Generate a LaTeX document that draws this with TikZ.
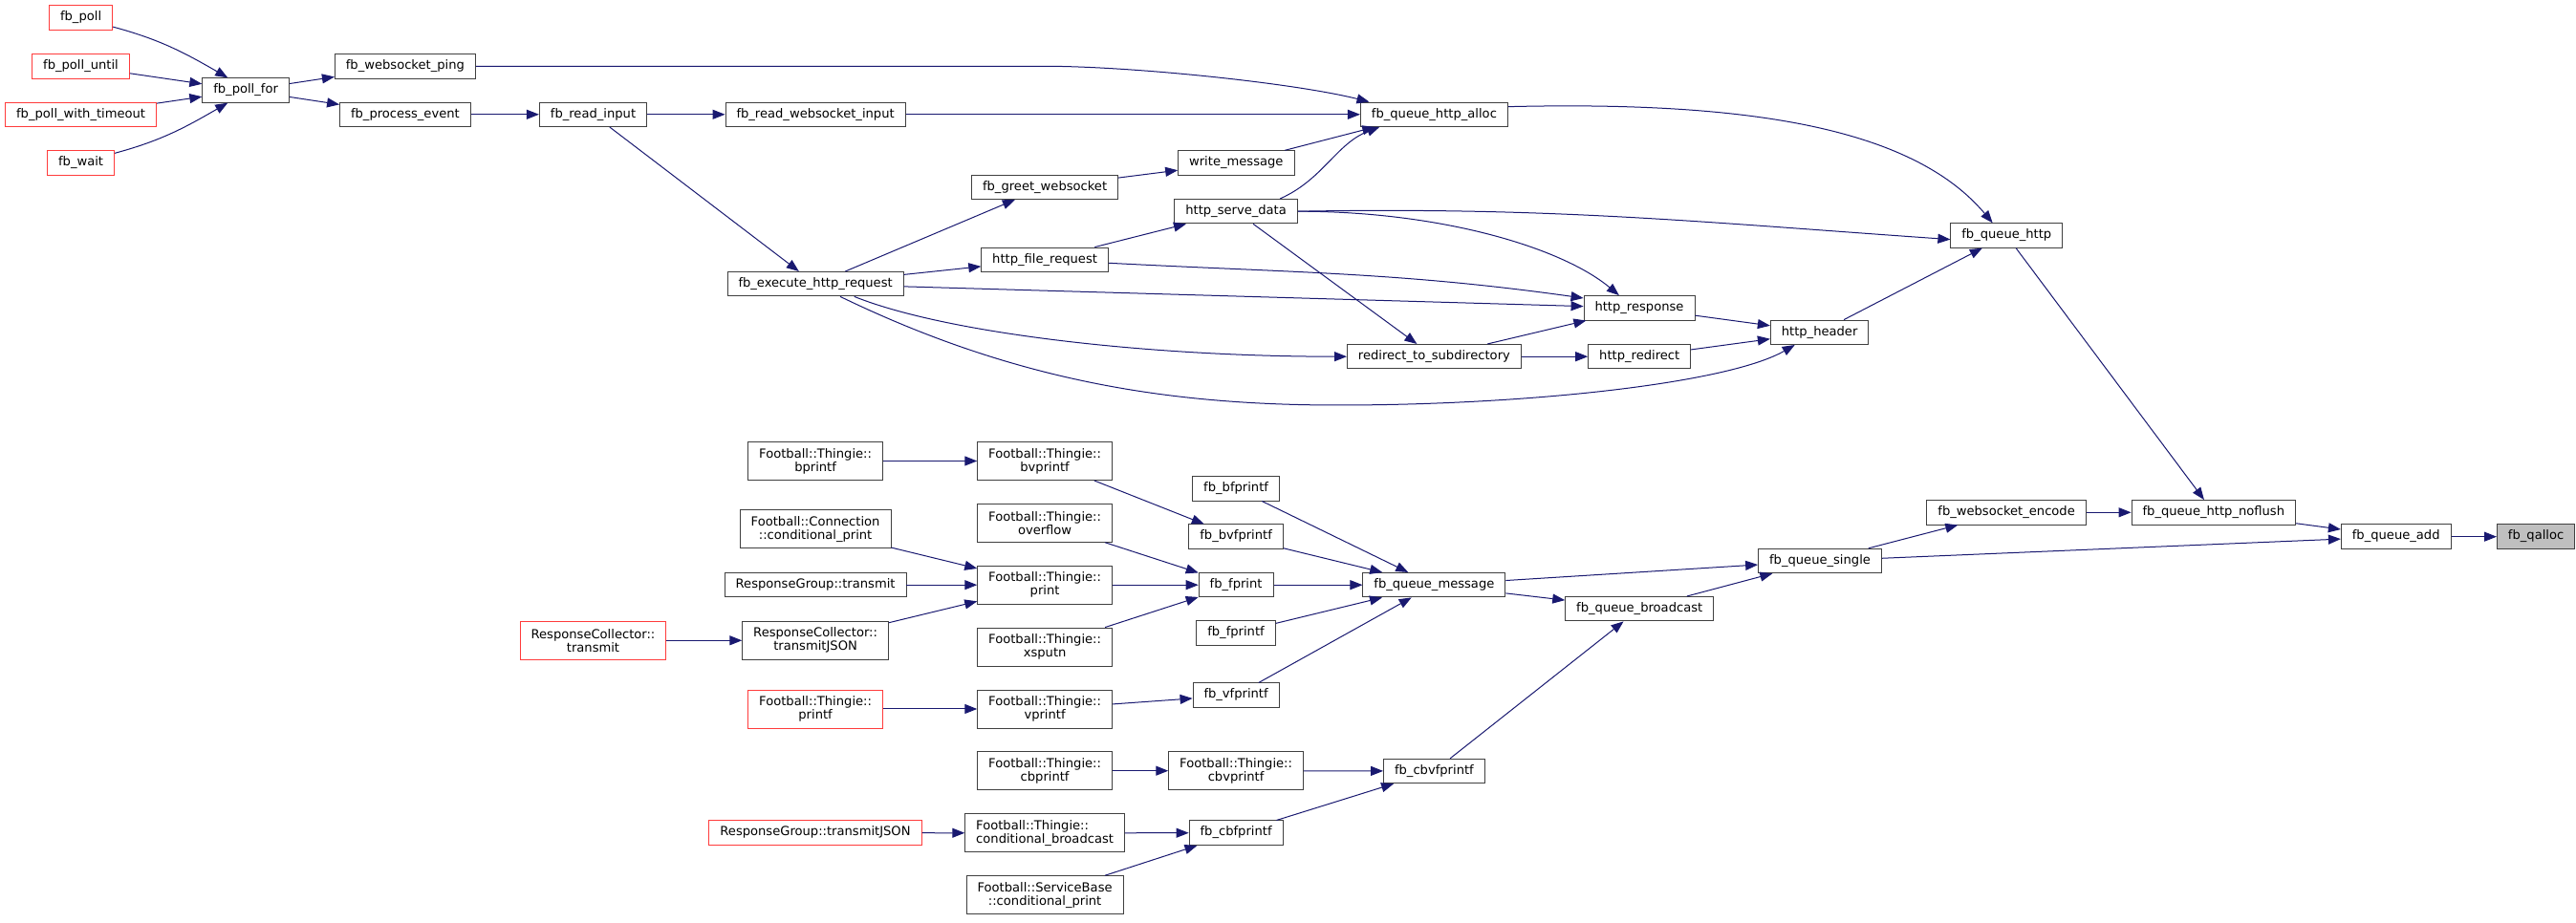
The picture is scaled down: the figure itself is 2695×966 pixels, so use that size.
\documentclass[tikz,border=0pt]{standalone}
\usepackage{fontspec}
\setmainfont{DejaVu Sans}
\usetikzlibrary{arrows.meta}
\definecolor{midnight}{RGB}{25,25,112}
\definecolor{boxline}{RGB}{64,64,64}
\definecolor{truncred}{RGB}{255,60,60}
\definecolor{rootfill}{RGB}{191,191,191}
\begin{document}
\begin{tikzpicture}[x = 1pt, y = 1pt,
		box/.style = {draw = boxline, line width = .9pt, fill = white, inner xsep = 11.5pt, inner ysep = 2pt, font = \fontsize{13.1}{14}\selectfont},
		fn/.style = {box, minimum height = 25.5pt, text height = 9.5pt, text depth = 3pt},
		two/.style = {box, align = center, minimum height = 40pt},
		trunc/.style = {draw = truncred},
		call/.style = {draw = midnight, line width = 1pt, -{Triangle[length = 13pt, width = 10pt]}}]
				\useasboundingbox (0,0) rectangle (2695,966);
				% upper part: polling and http
				\node[fn, trunc] (poll) at (84.6,947.5) {fb\_poll};
				\node[fn, trunc] (polluntil) at (84.5,896.7) {fb\_poll\_until};
				\node[fn, trunc] (pollwt) at (84.6,846.2) {fb\_poll\_with\_timeout};
				\node[fn, trunc] (wait) at (84.6,795.5) {fb\_wait};
				\node[fn] (pollfor) at (257.1,871.5) {fb\_poll\_for};
				\node[fn] (wsping) at (423.9,896.7) {fb\_websocket\_ping};
				\node[fn] (procev) at (423.9,846.2) {fb\_process\_event};
				\node[fn] (readin) at (620.5,846.2) {fb\_read\_input};
				\node[fn] (readws) at (853.1,846.2) {fb\_read\_websocket\_input};
				\node[fn] (exec) at (853.1,668.8) {fb\_execute\_http\_request};
				\node[fn] (greet) at (1093.1,770.2) {fb\_greet\_websocket};
				\node[fn] (filereq) at (1093.1,694.2) {http\_file\_request};
				\node[fn] (writemsg) at (1293.3,795.5) {write\_message};
				\node[fn] (serve) at (1293.1,744.8) {http\_serve\_data};
				\node[fn] (qhalloc) at (1500.4,846.2) {fb\_queue\_http\_alloc};
				\node[fn] (redirsub) at (1500.4,592.8) {redirect\_to\_subdirectory};
				\node[fn] (response) at (1715,643.7) {http\_response};
				\node[fn] (redirect) at (1715.2,592.8) {http\_redirect};
				\node[fn] (header) at (1903.6,618.2) {http\_header};
				\node[fn] (qhttp) at (2099.3,719.5) {fb\_queue\_http};
				% lower part: printing and queueing
				\node[two] (bprintf) at (853.1,483.5) {Football::Thingie::\\bprintf};
				\node[two] (connprint) at (853.1,412.2) {Football::Connection\\::conditional\_print};
				\node[fn] (rgtransmit) at (853.1,353.8) {ResponseGroup::transmit};
				\node[two] (rctjson) at (853.1,295.7) {ResponseCollector::\\transmitJSON};
				\node[two, trunc] (rctransmit) at (620.5,295.7) {ResponseCollector::\\transmit};
				\node[two, trunc] (printf) at (853.1,224) {Football::Thingie::\\printf};
				\node[fn, trunc] (rgtjson) at (853,94.3) {ResponseGroup::transmitJSON};
				\node[two] (bvprintf) at (1093.1,483.5) {Football::Thingie::\\bvprintf};
				\node[two] (overflow) at (1093.1,418.7) {Football::Thingie::\\overflow};
				\node[two] (print) at (1093.1,353.8) {Football::Thingie::\\print};
				\node[two] (xsputn) at (1093.1,289) {Football::Thingie::\\xsputn};
				\node[two] (vprintf) at (1093.1,224) {Football::Thingie::\\vprintf};
				\node[two] (cbprintf) at (1093.1,159.3) {Football::Thingie::\\cbprintf};
				\node[two, align = left] (condbc) at (1093.1,94.2) {Football::Thingie::\\conditional\_broadcast};
				\node[two] (sbprint) at (1093.1,29.3) {Football::ServiceBase\\::conditional\_print};
				\node[fn] (bfprintf) at (1293.1,454.7) {fb\_bfprintf};
				\node[fn] (bvfprintf) at (1293.1,404.3) {fb\_bvfprintf};
				\node[fn] (fprint) at (1293.1,353.8) {fb\_fprint};
				\node[fn] (fprintf) at (1293,303.5) {fb\_fprintf};
				\node[fn] (vfprintf) at (1293.1,238.3) {fb\_vfprintf};
				\node[two] (cbvprintf) at (1293.1,159.3) {Football::Thingie::\\cbvprintf};
				\node[fn] (cbfprintf) at (1293.1,94.3) {fb\_cbfprintf};
				\node[fn] (qmsg) at (1500.4,353.8) {fb\_queue\_message};
				\node[fn] (cbvfprintf) at (1500.4,159) {fb\_cbvfprintf};
				\node[fn] (qbc) at (1715.2,328.8) {fb\_queue\_broadcast};
				\node[fn] (qsingle) at (1904,379) {fb\_queue\_single};
				\node[fn] (wsenc) at (2099.1,429.7) {fb\_websocket\_encode};
				\node[fn] (qnoflush) at (2315.8,429.7) {fb\_queue\_http\_noflush};
				\node[fn] (qadd) at (2506.7,404.3) {fb\_queue\_add};
				\node[fn, fill = rootfill] (qalloc) at (2653.1,404.3) {fb\_qalloc};
				% calls, upper part
				\draw[call] (poll.-16) to[out = -15, in = 150] (pollfor.145);
				\draw[call] (polluntil) -- (pollfor);
				\draw[call] (pollwt) -- (pollfor);
				\draw[call] (wait.16) to[out = 15, in = -150] (pollfor.-145);
				\draw[call] (pollfor) -- (wsping);
				\draw[call] (pollfor) -- (procev);
				\draw[call] (procev) -- (readin);
				\draw[call] (readin) -- (readws);
				\draw[call] (readin) -- (exec);
				\draw[call] (wsping.east) -- ++(595,0) .. controls +(90,0) and +(-80,20) .. (qhalloc.169);
				\draw[call] (readws) -- (qhalloc);
				\draw[call] (writemsg) -- (qhalloc.-168);
				\draw[call] (serve.16) .. controls +(45,20) and +(-45,-17) .. (qhalloc.-167);
				\draw[call] (greet) -- (writemsg);
				\draw[call] (exec) -- (greet);
				\draw[call] (exec) -- (filereq);
				\draw[call] (filereq) -- (serve);
				\draw[call] (filereq.-3) to[out = -3, in = 172] (response.170);
				\draw[call] (exec) -- (response);
				\draw[call] (serve.east) .. controls +(150,0) and +(-60,50) .. (response.148);
				\draw[call] (serve) -- (redirsub);
				\draw[call] (serve.east) to[out = 1, in = 176] (qhttp.-176);
				\draw[call] (exec.-18) .. controls +(100,-40) and +(-200,0) .. (redirsub.west);
				\draw[call] (exec.-27) .. controls (1060,568) and (1220,542) .. (1400,542) .. controls (1600,542) and (1808,565) .. (header.-153); %long way under
				\draw[call] (redirsub) -- (response);
				\draw[call] (redirsub) -- (redirect);
				\draw[call] (response) -- (header);
				\draw[call] (redirect) -- (header);
				\draw[call] (qhalloc.6) .. controls +(250,6) and +(-84,100) .. (qhttp.138);
				\draw[call] (header) -- (qhttp);
				\draw[call] (qhttp) -- (qnoflush);
				% calls, lower part
				\draw[call] (bprintf) -- (bvprintf);
				\draw[call] (bvprintf) -- (bvfprintf);
				\draw[call] (connprint) -- (print);
				\draw[call] (rgtransmit) -- (print);
				\draw[call] (rctjson) -- (print);
				\draw[call] (rctransmit) -- (rctjson);
				\draw[call] (overflow) -- (fprint);
				\draw[call] (print) -- (fprint);
				\draw[call] (xsputn) -- (fprint);
				\draw[call] (printf) -- (vprintf);
				\draw[call] (vprintf) -- (vfprintf);
				\draw[call] (bfprintf) -- (qmsg);
				\draw[call] (bvfprintf) -- (qmsg);
				\draw[call] (fprint) -- (qmsg);
				\draw[call] (fprintf) -- (qmsg);
				\draw[call] (vfprintf) -- (qmsg);
				\draw[call] (cbprintf) -- (cbvprintf);
				\draw[call] (cbvprintf) -- (cbvfprintf);
				\draw[call] (rgtjson) -- (condbc);
				\draw[call] (condbc) -- (cbfprintf);
				\draw[call] (sbprint) -- (cbfprintf);
				\draw[call] (cbfprintf) -- (cbvfprintf);
				\draw[call] (cbvfprintf) -- (qbc);
				\draw[call] (qmsg) -- (qsingle);
				\draw[call] (qmsg) -- (qbc);
				\draw[call] (qbc) -- (qsingle);
				\draw[call] (qsingle) -- (wsenc);
				\draw[call] (qsingle) -- (qadd);
				\draw[call] (wsenc) -- (qnoflush);
				\draw[call] (qnoflush) -- (qadd);
				\draw[call] (qadd) -- (qalloc);
				\end{tikzpicture}
\end{document}
